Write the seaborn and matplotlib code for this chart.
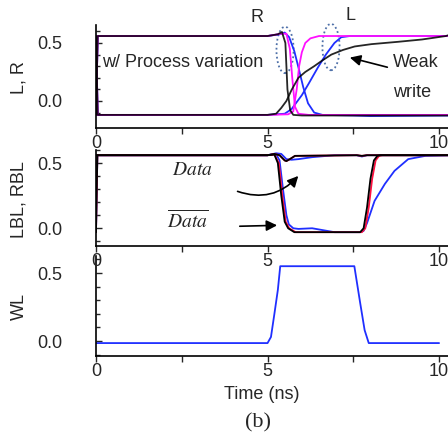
import matplotlib
matplotlib.use("Agg")
import matplotlib.pyplot as plt
from matplotlib.patches import Ellipse
import seaborn as sns
import numpy as np

# ---------------- data ----------------
# Top panel: L, R nodes
t_R_blue = [0, 0.05, 5.0, 5.35, 5.5, 5.63, 5.78, 5.9, 6.04, 6.18, 6.36, 6.6, 7.5, 8.0, 10.3]
R_blue = [-0.12, 0.56, 0.56, 0.575, 0.59, 0.55, 0.43, 0.29, 0.12, -0.02, -0.1, -0.12, -0.125, -0.13, -0.125]
t_L_blue = [0, 0.05, 5.0, 5.5, 5.7, 6.0, 6.2, 6.47, 6.7, 6.95, 7.15, 7.4, 10.3]
L_blue = [0.56, -0.12, -0.12, -0.11, -0.07, 0.05, 0.15, 0.29, 0.4, 0.5, 0.55, 0.56, 0.56]
t_R_mag = [0, 0.05, 5.0, 5.4, 5.55, 5.65, 5.72, 5.8, 5.9, 6.2, 10.3]
R_mag = [-0.12, 0.56, 0.56, 0.58, 0.58, 0.45, 0.2, -0.05, -0.11, -0.12, -0.12]
t_L_mag = [0, 0.05, 5.0, 5.6, 5.75, 5.85, 5.92, 6.0, 6.1, 6.25, 6.5, 10.3]
L_mag = [0.56, -0.12, -0.12, -0.115, -0.09, 0.1, 0.3, 0.42, 0.5, 0.54, 0.56, 0.56]
t_R_blk = [0, 0.05, 5.0, 5.3, 5.42, 5.52, 5.58, 5.66, 5.75, 6.0, 10.3]
R_blk = [-0.12, 0.56, 0.56, 0.575, 0.595, 0.5, 0.1, -0.08, -0.12, -0.125, -0.125]
t_L_blk = [0, 0.05, 5.0, 5.25, 5.4, 5.55, 5.7, 5.9, 6.1, 6.36, 6.6, 6.86, 7.2, 7.54, 8.03, 8.8, 9.5, 10.2, 10.3]
L_blk = [0.56, -0.12, -0.12, -0.11, -0.06, 0.0, 0.095, 0.2, 0.25, 0.3, 0.35, 0.4, 0.44, 0.47, 0.49, 0.51, 0.53, 0.56, 0.57]

# Middle panel: LBL (Data-bar), RBL (Data)
t_LBL_blue = [0, 0.04, 5.0, 5.25, 5.35, 5.45, 5.55, 5.62, 5.75, 5.9, 6.3, 6.95, 7.7, 7.8, 7.9, 8.12, 8.42, 8.7, 9.1, 9.6, 10.3]
LBL_blue = [-0.03, 0.56, 0.56, 0.57, 0.52, 0.3, 0.1, 0.03, 0.0, -0.005, 0.0, -0.03, -0.03, -0.02, 0.04, 0.21, 0.34, 0.44, 0.53, 0.555, 0.56]
t_RBL_blue = [0, 5.0, 5.25, 5.4, 5.55, 5.7, 5.9, 6.3, 6.95, 7.6, 7.75, 7.9, 10.3]
RBL_blue = [0.56, 0.56, 0.575, 0.57, 0.53, 0.525, 0.53, 0.545, 0.56, 0.56, 0.55, 0.56, 0.56]
t_LBL_red = [0, 0.04, 5.0, 5.2, 5.33, 5.43, 5.53, 5.63, 5.82, 7.75, 7.85, 7.95, 8.05, 8.15, 8.25, 8.35, 10.3]
LBL_red = [-0.03, 0.56, 0.56, 0.565, 0.5, 0.25, 0.05, 0.0, -0.03, -0.03, 0.0, 0.16, 0.38, 0.52, 0.555, 0.56, 0.56]
t_RBL_red = [0, 5.0, 5.2, 5.35, 5.5, 5.55, 5.65, 5.8, 7.6, 7.75, 7.9, 10.3]
RBL_red = [0.56, 0.56, 0.57, 0.56, 0.52, 0.515, 0.53, 0.555, 0.56, 0.555, 0.56, 0.56]
t_LBL_blk = [0, 0.04, 5.0, 5.2, 5.3, 5.4, 5.5, 5.6, 5.78, 7.7, 7.8, 7.9, 8.0, 8.1, 8.2, 8.3, 10.3]
LBL_blk = [-0.03, 0.56, 0.56, 0.565, 0.5, 0.25, 0.05, 0.0, -0.03, -0.03, 0.0, 0.16, 0.38, 0.52, 0.555, 0.56, 0.56]
t_RBL_blk = [0, 5.0, 5.2, 5.35, 5.5, 5.55, 5.65, 5.8, 7.6, 7.75, 7.9, 10.3]
RBL_blk = [0.56, 0.56, 0.57, 0.56, 0.52, 0.515, 0.53, 0.555, 0.56, 0.555, 0.56, 0.56]

# Bottom panel: WL
t_WL = [0, 5.0, 5.1, 5.2, 5.3, 5.37, 7.53, 7.7, 7.83, 7.95, 10.0]
WL = [-0.015, -0.015, 0.03, 0.2, 0.375, 0.55, 0.55, 0.28, 0.08, -0.015, -0.015]

x_ticks = [0, 5, 10]
x_ticklabels = ["0", "5", "10"]
y_ticks = [0.0, 0.5]
y_ticklabels = ["0.0", "0.5"]
y_labels = ["L, R", "LBL, RBL", "WL"]

# ---------------- style ----------------
sns.set_style("ticks")
plt.rcParams["font.family"] = ["Liberation Sans", "DejaVu Sans"]
plt.rcParams["mathtext.fontset"] = "stix"

fig = plt.figure(figsize=(4.48, 4.36), dpi=100)
W, H = 448.0, 436.0
x0 = 96 / W
wid = 1 - x0

def make_ax(top_px, bot_px, ylim):
    ax = fig.add_axes([x0, (H - bot_px) / H, wid, (bot_px - top_px) / H])
    ax.set_facecolor("none")
    ax.set_xlim(0, 10.26)
    ax.set_ylim(*ylim)
    for s in ["top", "right"]:
        ax.spines[s].set_visible(False)
    for s in ["left", "bottom"]:
        ax.spines[s].set_linewidth(1.2)
        ax.spines[s].set_color("black")
    ax.set_xticks(x_ticks)
    ax.set_xticklabels(x_ticklabels)
    ax.set_xticks([2.5, 7.5], minor=True)
    ax.set_yticks(y_ticks)
    ax.set_yticklabels(y_ticklabels)
    ax.set_yticks(np.arange(-0.1, 0.61, 0.1), minor=True)
    ax.tick_params(axis="x", which="both", direction="out", length=4, width=1, pad=1, labelsize=13)
    ax.tick_params(axis="y", which="major", direction="in", length=4, width=1, pad=24, labelsize=13)
    ax.tick_params(axis="y", which="minor", direction="in", length=3, width=1)
    ax.set_xlabel("")
    ax.set_ylabel("")
    return ax

ax1 = make_ax(25, 128, (-0.233, 0.655))
ax2 = make_ax(150, 246, (-0.136, 0.59))
ax3 = make_ax(256, 356, (-0.11, 0.625))
ax1.set_zorder(3)
ax2.set_zorder(2)
ax3.set_zorder(1)

def line(ax, t, v, c, lw=1.3, alpha=1.0):
    sns.lineplot(x=t, y=v, ax=ax, color=c, lw=lw, alpha=alpha, estimator=None, sort=False)

# top
line(ax1, t_R_blue, R_blue, "#1f2fff")
line(ax1, t_L_blue, L_blue, "#1f2fff")
line(ax1, t_R_mag, R_mag, "#ff10ff")
line(ax1, t_L_mag, L_mag, "#ff10ff")
line(ax1, t_R_blk, R_blk, "black", alpha=0.85)
line(ax1, t_L_blk, L_blk, "black", alpha=0.85)

# middle
line(ax2, t_LBL_blue, LBL_blue, "#1f2fff")
line(ax2, t_RBL_blue, RBL_blue, "#1f2fff")
line(ax2, t_LBL_red, LBL_red, "#ff1040")
line(ax2, t_RBL_red, RBL_red, "#ff1040")
line(ax2, t_LBL_blk, LBL_blk, "black")
line(ax2, t_RBL_blk, RBL_blk, "black")

# bottom
line(ax3, t_WL, WL, "#1f2fff")

# ---------------- annotations ----------------
ax1.text(0.17, 0.33, "w/ Process variation", fontsize=13, va="center", ha="left")
ax1.text(8.66, 0.33, "Weak", fontsize=13, va="center", ha="left")
ax1.text(8.66, 0.07, "write", fontsize=13, va="center", ha="left")
ax1.text(4.69, 0.72, "R", fontsize=13, va="center", ha="center", clip_on=False)
ax1.text(7.43, 0.74, "L", fontsize=13, va="center", ha="center", clip_on=False)
ax1.annotate("", xy=(7.32, 0.38), xytext=(8.57, 0.285),
             arrowprops=dict(arrowstyle="-|>", color="black", lw=1.2, mutation_scale=16))
for (cx, cy) in [(5.51, 0.44), (6.85, 0.465)]:
    ax1.add_patch(Ellipse((cx, cy), 0.5, 0.40, fill=False, ec="#4d6fa8",
                          ls=(0, (1, 1.5)), lw=1.3, clip_on=False))

ax2.text(2.8, 0.44, r"$Data$", fontsize=14, va="center", ha="center")
ax2.text(2.68, 0.06, r"$\overline{Data}$", fontsize=14, va="center", ha="center")
ax2.annotate("", xy=(5.95, 0.417), xytext=(4.05, 0.29),
             arrowprops=dict(arrowstyle="-|>", color="black", lw=1.2, mutation_scale=16,
                             connectionstyle="arc3,rad=0.35"))
ax2.annotate("", xy=(5.36, 0.023), xytext=(4.11, 0.015),
             arrowprops=dict(arrowstyle="-|>", color="black", lw=1.2, mutation_scale=16))

fig.text(262 / W, 1 - 394 / H, "Time (ns)", fontsize=13, ha="center", va="center")
fig.text(258 / W, 1 - 423 / H, "(b)", fontsize=16, ha="center", va="center",
         family=["Liberation Serif", "DejaVu Serif"])
for lab, yc in zip(y_labels, [78, 200, 306]):
    fig.text(19 / W, 1 - yc / H, lab, fontsize=13, rotation=90, ha="center", va="center")

fig.savefig("out.png", dpi=100)
